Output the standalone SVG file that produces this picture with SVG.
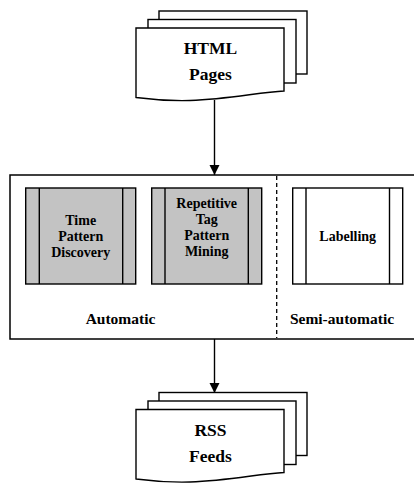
<svg xmlns="http://www.w3.org/2000/svg" width="414" height="484" viewBox="0 0 414 484">
<style>
.sheet{fill:#fff;stroke:#000;stroke-width:1.4;stroke-linejoin:miter}
.box{stroke:#000;stroke-width:1.4}
.gray{fill:#c3c3c3}
.white{fill:#fff}
.t{font-weight:bold;text-anchor:middle;fill:#000}
.big{font-size:17.5px}
.mid{font-size:14px}
.lab{font-size:15.5px}
.conn{stroke:#000;stroke-width:1.4;fill:none}
</style>
<defs>
<marker id="arrow" markerUnits="userSpaceOnUse" markerWidth="10" markerHeight="12" refX="10" refY="5" orient="auto">
<path d="M0,0 L10,5 L0,10 Z" fill="#000"/>
</marker>
<g id="docstack">
<rect class="sheet" x="159" y="11" width="148" height="63"/>
<rect class="sheet" x="148" y="19.5" width="148" height="63.5"/>
<path class="sheet" d="M136,28 H284 V91 C260,92 230,99 190,100.5 C170,101 155,100 136,97.5 Z"/>
</g>
</defs>
<g font-family="'Liberation Serif', 'Times New Roman', 'DejaVu Serif', serif">
<g id="html-pages">
<use href="#docstack"/>
<text class="t big" x="210.5" y="54">HTML</text>
<text class="t big" x="210.5" y="80">Pages</text>
</g>
<g id="process">
<rect x="10" y="175" width="410" height="164" fill="#fff" stroke="#000" stroke-width="1.5"/>
<line x1="276.7" y1="176" x2="276.7" y2="338" stroke="#000" stroke-width="1.3" stroke-dasharray="4,3"/>
<text class="t lab" x="120.5" y="323.5">Automatic</text>
<text class="t lab" x="342" y="324">Semi-automatic</text>
</g>
<g id="time-pattern">
<rect class="box gray" x="25.7" y="188" width="110" height="96"/>
<line class="box" x1="39.3" y1="188" x2="39.3" y2="284"/>
<line class="box" x1="122.7" y1="188" x2="122.7" y2="284"/>
<text class="t mid" x="80.7" y="224.5">Time</text>
<text class="t mid" x="80.7" y="240.5">Pattern</text>
<text class="t mid" x="80.7" y="256.5">Discovery</text>
</g>
<g id="repetitive-tag">
<rect class="box gray" x="151.7" y="188" width="110" height="96"/>
<line class="box" x1="165" y1="188" x2="165" y2="284"/>
<line class="box" x1="248.3" y1="188" x2="248.3" y2="284"/>
<text class="t mid" x="206.7" y="208">Repetitive</text>
<text class="t mid" x="206.7" y="224">Tag</text>
<text class="t mid" x="206.7" y="240">Pattern</text>
<text class="t mid" x="206.7" y="256">Mining</text>
</g>
<g id="labelling">
<rect class="box white" x="292.7" y="188" width="110" height="96"/>
<line class="box" x1="306" y1="188" x2="306" y2="284"/>
<line class="box" x1="389.5" y1="188" x2="389.5" y2="284"/>
<text class="t mid" x="347.7" y="241">Labelling</text>
</g>
<g id="rss-feeds">
<use href="#docstack" transform="translate(0,381.5)"/>
<text class="t big" x="210.5" y="435.5">RSS</text>
<text class="t big" x="210.5" y="461.5">Feeds</text>
</g>
</g>
<g id="connectors">
<line class="conn" x1="214.5" y1="100" x2="214.5" y2="175" marker-end="url(#arrow)"/>
<line class="conn" x1="214.5" y1="339" x2="214.5" y2="393" marker-end="url(#arrow)"/>
</g>
</svg>
